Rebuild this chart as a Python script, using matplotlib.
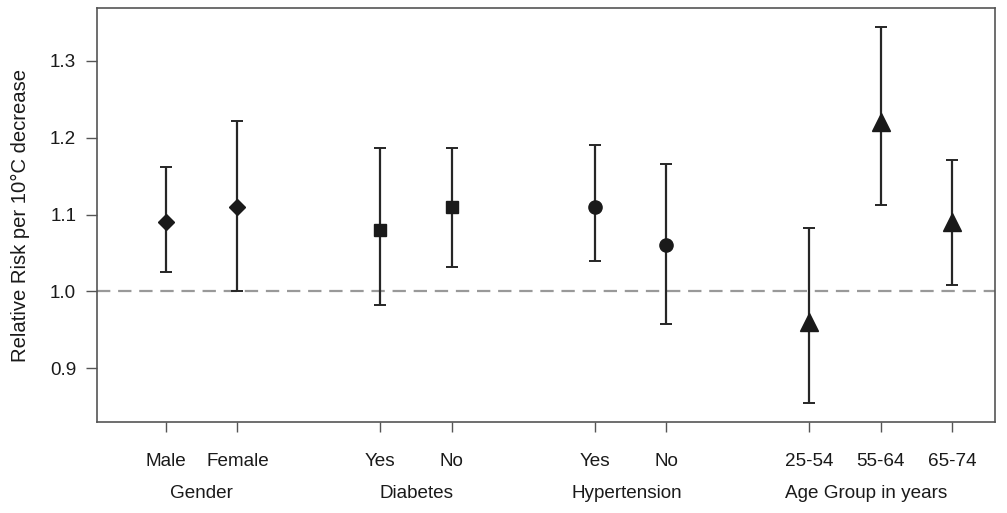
import matplotlib
matplotlib.use("Agg")
import matplotlib.pyplot as plt
import numpy as np

plt.rcParams['font.family'] = ['Liberation Sans', 'DejaVu Sans']

# relative risk estimates with 95% CI, per subgroup
groups = ["Gender", "Diabetes", "Hypertension", "Age Group in years"]
labels = [["Male", "Female"], ["Yes", "No"], ["Yes", "No"], ["25-54", "55-64", "65-74"]]
rr = [[1.09, 1.11], [1.08, 1.11], [1.11, 1.06], [0.96, 1.22, 1.09]]
lower = [[1.025, 1.001], [0.982, 1.032], [1.039, 0.957], [0.855, 1.112, 1.008]]
upper = [[1.162, 1.222], [1.187, 1.187], [1.190, 1.166], [1.083, 1.344, 1.171]]
markers = ["D", "s", "o", "^"]
msizes = [8.6, 8.6, 9.5, 13]
# horizontal nudge of each group title (x units)
title_shift = [0, 0, -0.05, -0.2]

fig = plt.figure(figsize=(10.07, 5.13), dpi=100)
ax = fig.add_axes([97/1007, 1 - 422/513, (995-97)/1007, (422-8)/513])

ink = "#1a1a1a"
fs = 13.6
pos = 1
xt, xl = [], []
for g, name in enumerate(groups):
    n = len(rr[g])
    xs = np.arange(pos, pos + n)
    y = np.array(rr[g])
    yerr = [y - np.array(lower[g]), np.array(upper[g]) - y]
    ax.errorbar(xs, y, yerr=yerr, fmt=markers[g], color=ink, ms=msizes[g],
                ecolor="#262626", elinewidth=1.6, capsize=4.5, capthick=1.4, zorder=3)
    xt += list(xs)
    xl += labels[g]
    ax.annotate(name, xy=(xs.mean() + title_shift[g], 0), xycoords=('data', 'axes fraction'),
                xytext=(0, -51.5), textcoords='offset points',
                ha='center', va='center', fontsize=fs, color=ink)
    pos += n + 1

ax.axhline(1.0, color="#999999", lw=1.6, ls=(0, (6, 3.5)), zorder=1)

ax.set_xlim(0.035, 12.6)
ax.set_ylim(0.83, 1.369)
ax.set_yticks([0.9, 1.0, 1.1, 1.2, 1.3])
ax.set_xticks(xt)
ax.set_xticklabels(xl)
ax.tick_params(axis='x', length=7, width=1, color="#555555", pad=15, labelsize=fs, labelcolor=ink)
ax.tick_params(axis='y', length=8, width=1, color="#555555", pad=7, labelsize=fs, labelcolor=ink)
for s in ax.spines.values():
    s.set_color("#555555")
    s.set_linewidth(1.2)
ax.set_ylabel("Relative Risk per 10°C decrease", fontsize=14.6, color=ink, labelpad=14)

fig.savefig("out.png", dpi=100)
